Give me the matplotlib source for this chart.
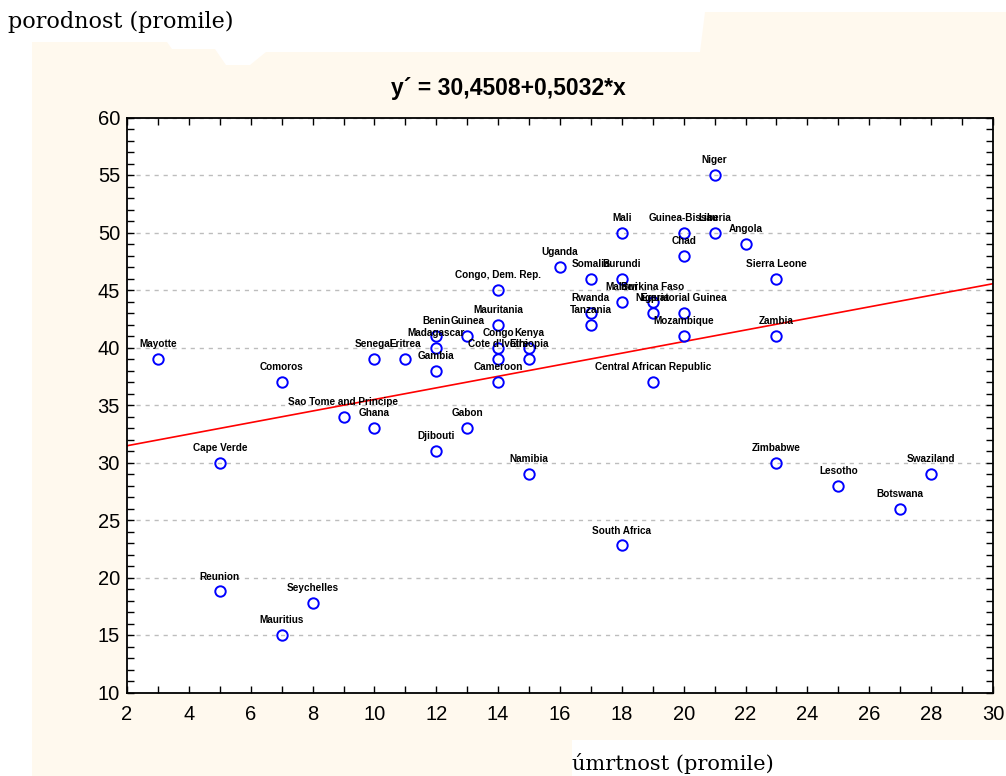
import matplotlib
matplotlib.use("Agg")
import matplotlib.pyplot as plt
from matplotlib.patches import Polygon
from matplotlib.ticker import MultipleLocator
import numpy as np

# ---------------- data ----------------
countries = [
    "Mayotte", "Comoros", "Cape Verde", "Reunion", "Seychelles", "Mauritius",
    "Sao Tome and Principe", "Ghana", "Senegal", "Eritrea", "Benin", "Guinea",
    "Madagascar", "Gambia", "Djibouti", "Gabon", "Congo, Dem. Rep.", "Mauritania",
    "Congo", "Kenya", "Cote d'Ivoire", "Ethiopia", "Cameroon", "Namibia",
    "Uganda", "Somalia", "Burundi", "Rwanda", "Tanzania", "Mali", "Malawi",
    "South Africa", "Burkina Faso", "Nigeria", "Central African Republic",
    "Guinea-Bissau", "Chad", "Equatorial Guinea", "Mozambique", "Niger",
    "Liberia", "Angola", "Sierra Leone", "Zambia", "Zimbabwe", "Lesotho",
    "Botswana", "Swaziland",
]
death_rate = [
    3, 7, 5, 5, 8, 7,
    9, 10, 10, 11, 12, 13,
    12, 12, 12, 13, 14, 14,
    14, 15, 14, 15, 14, 15,
    16, 17, 18, 17, 17, 18, 18,
    18, 19, 19, 19,
    20, 20, 20, 20, 21,
    21, 22, 23, 23, 23, 25,
    27, 28,
]
birth_rate = [
    39, 37, 30, 18.8, 17.8, 15,
    34, 33, 39, 39, 41, 41,
    40, 38, 31, 33, 45, 42,
    40, 40, 39, 39, 37, 29,
    47, 46, 46, 43, 42, 50, 44,
    22.8, 44, 43, 37,
    50, 48, 43, 41, 55,
    50, 49, 46, 41, 30, 28,
    26, 29,
]
x_ticks = list(range(2, 31, 2))
y_ticks = list(range(10, 61, 5))
reg_intercept = 30.4508
reg_slope = 0.5032
title_text = "y\u00b4 = 30,4508+0,5032*x"
xlabel_text = "\u00famrtnost (promile)"
ylabel_text = "porodnost (promile)"

# ---------------- figure ----------------
W, H = 1006, 776
fig = plt.figure(figsize=(W / 100, H / 100), dpi=100)
fig.patch.set_facecolor("white")

def px(x, y):
    return (x / W, 1 - y / H)

cream_pts = [(32, 776), (32, 42), (167, 42), (172, 49), (215, 49), (226, 65),
             (250, 65), (266, 52), (700, 52), (705, 12), (1006, 12),
             (1006, 740), (572, 740), (572, 776)]
fig.patches.append(Polygon([px(*p) for p in cream_pts], closed=True,
                           transform=fig.transFigure, facecolor="#fff9ee",
                           edgecolor="none", zorder=-10))

ax = fig.add_axes([127 / W, 1 - 692.5 / H, (993 - 127) / W, (692.5 - 117.5) / H])
ax.set_zorder(5)
ax.set_facecolor("white")
ax.set_xlim(x_ticks[0], x_ticks[-1])
ax.set_ylim(y_ticks[0], y_ticks[-1])
ax.set_xticks(x_ticks)
ax.set_yticks(y_ticks)
ax.xaxis.set_minor_locator(MultipleLocator(1))
ax.yaxis.set_minor_locator(MultipleLocator(1))
ax.tick_params(which="both", direction="in", top=True, right=True,
               length=5, width=1, color="black")
ax.tick_params(axis="x", which="major", pad=9)
ax.tick_params(axis="y", which="major", pad=5)
for lab in ax.get_xticklabels() + ax.get_yticklabels():
    lab.set_fontfamily("Liberation Sans")
    lab.set_fontsize(14.5)
for s in ax.spines.values():
    s.set_linewidth(1.3)
    s.set_color("black")

ax.yaxis.grid(True, color="#bdbdbd", linestyle=(0, (3, 3.5)), linewidth=1)
ax.set_axisbelow(True)

xs = np.array(ax.get_xlim())
ax.plot(xs, reg_intercept + reg_slope * xs, color="red", linewidth=1.2, zorder=2)

ax.plot(death_rate, birth_rate, linestyle="none", marker="o", markersize=7.5,
        markerfacecolor="none", markeredgecolor="#0000ff", markeredgewidth=1.4,
        zorder=3)

for name, xv, yv in zip(countries, death_rate, birth_rate):
    ax.annotate(name, (xv, yv), xytext=(0, 7), textcoords="offset points",
                ha="center", va="bottom", fontsize=7.2, fontweight="bold",
                family="Liberation Sans", color="black", zorder=4)

fig.text(508 / W, 1 - 88 / H, title_text, ha="center", va="center",
         fontsize=16.5, fontweight="bold", family="Liberation Sans", zorder=6)
fig.text(8 / W, 1 - 22 / H, ylabel_text, ha="left", va="center",
         fontsize=16, family="DejaVu Serif", zorder=6)
fig.text(572 / W, 1 - 764 / H, xlabel_text, ha="left", va="center",
         fontsize=15, family="DejaVu Serif", zorder=6)

fig.savefig("out.png", dpi=100)
